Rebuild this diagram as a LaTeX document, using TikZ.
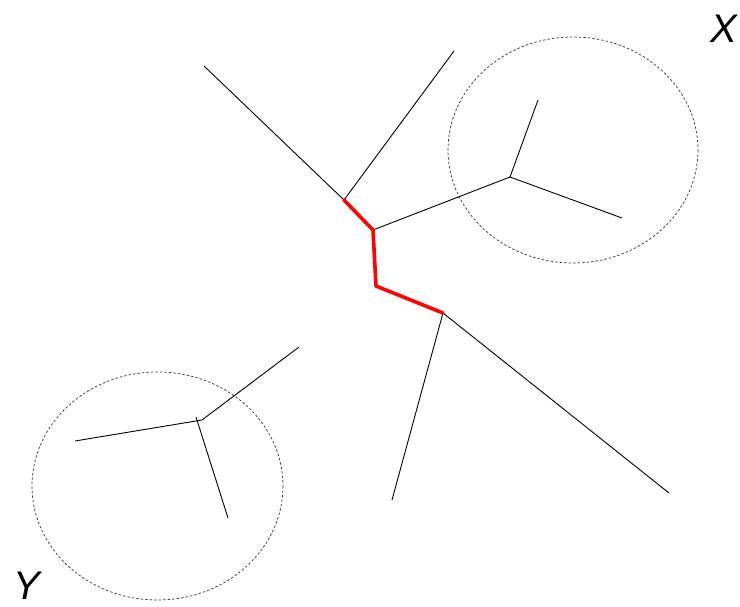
\documentclass[tikz,border=0pt]{standalone}
\usepackage{fontspec}
\setmainfont{Liberation Sans}
\begin{document}
\begin{tikzpicture}[x=1pt,y=-1pt,
  edge/.style={line width=0.9pt,black},
  redge/.style={line width=3.6pt,red,line join=round,line cap=round},
  zone/.style={draw=black!75,dash pattern=on 2.5pt off 2pt,line width=0.75pt},
  lab/.style={font=\fontsize{40}{40}\selectfont\itshape,inner sep=0pt,anchor=base}]
\useasboundingbox (0,0) rectangle (740,607);
% zones
\draw[zone] (573,150) ellipse [x radius=125,y radius=113];
\draw[zone] (157.5,486) ellipse [x radius=125.5,y radius=114];
% coordinates
\coordinate (a) at (344,200);
\coordinate (b) at (373,230);
\coordinate (c) at (376,286);
\coordinate (d) at (443,313);
\coordinate (e) at (510,177);
\coordinate (l1) at (204,66);
\coordinate (l2) at (454,51);
\coordinate (x1) at (538,100);
\coordinate (x2) at (622,218);
\coordinate (d1) at (392,500);
\coordinate (d2) at (669,493);
\coordinate (y0) at (202,420);
\coordinate (y0b) at (196,417);
\coordinate (y1) at (299,347);
\coordinate (y2) at (75,441);
\coordinate (y3) at (228,518);
% black edges
\draw[edge] (l1) -- (a);
\draw[edge] (l2) -- (a);
\draw[edge] (b) -- (e);
\draw[edge] (e) -- (x1);
\draw[edge] (e) -- (x2);
\draw[edge] (d) -- (d1);
\draw[edge] (d) -- (d2);
\draw[edge] (y1) -- (y0);
\draw[edge] (y2) -- (y0);
\draw[edge] (y0b) -- (y3);
% red path
\draw[redge] (a) -- (b) -- (c) -- (d);
% labels
\node[lab] (X) at (724,43) {X};
\node[lab] (Y) at (27,599) {Y};
\end{tikzpicture}
\end{document}
